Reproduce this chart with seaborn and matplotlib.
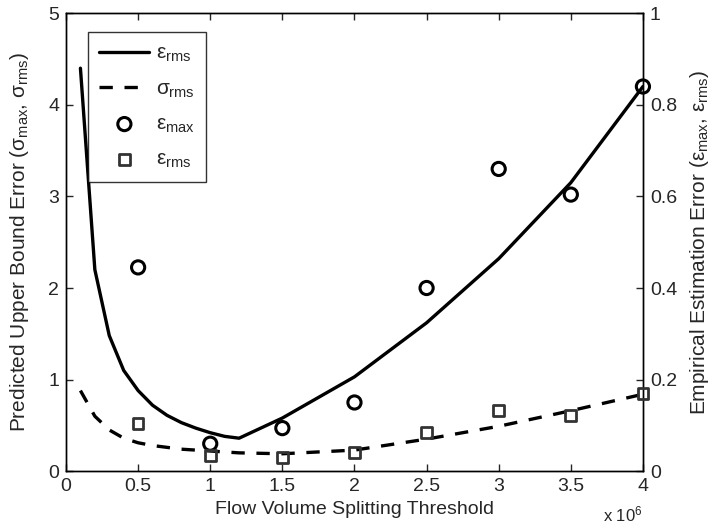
import matplotlib
matplotlib.use("Agg")
import matplotlib.pyplot as plt
import seaborn as sns
import pandas as pd

# Data (x in units of 10^6)
curve_x = [0.1, 0.2, 0.3, 0.4, 0.5, 0.6, 0.7, 0.8, 0.9, 1.0, 1.1, 1.2,
           1.5, 2.0, 2.5, 3.0, 3.5, 4.0]
eps_rms_line = [4.4, 2.2, 1.48, 1.1, 0.88, 0.72, 0.61, 0.53, 0.47, 0.42, 0.38, 0.36,
                0.58, 1.03, 1.62, 2.32, 3.15, 4.2]
sigma_rms_line = [0.88, 0.6, 0.45, 0.36, 0.31, 0.28, 0.26, 0.24, 0.23, 0.22, 0.21, 0.2,
                  0.19, 0.23, 0.35, 0.49, 0.66, 0.84]

pt_x = [0.5, 1.0, 1.5, 2.0, 2.5, 3.0, 3.5, 4.0]
eps_max_pts = [0.445, 0.06, 0.094, 0.15, 0.40, 0.66, 0.604, 0.84]
eps_rms_pts = [0.104, 0.034, 0.03, 0.04, 0.084, 0.132, 0.122, 0.17]

xticks = [0, 0.5, 1, 1.5, 2, 2.5, 3, 3.5, 4]
xticklabels = ["0", "0.5", "1", "1.5", "2", "2.5", "3", "3.5", "4"]
yticks_left = [0, 1, 2, 3, 4, 5]
yticks_right = [0, 0.2, 0.4, 0.6, 0.8, 1]
yticklabels_right = ["0", "0.2", "0.4", "0.6", "0.8", "1"]

sns.set_style("ticks")
plt.rcParams["font.family"] = ["Liberation Sans", "DejaVu Sans"]
plt.rcParams["mathtext.fontset"] = "custom"
plt.rcParams["mathtext.rm"] = "Liberation Sans"
plt.rcParams["mathtext.it"] = "Liberation Sans"
plt.rcParams["xtick.direction"] = "in"
plt.rcParams["ytick.direction"] = "in"

lines_df = pd.DataFrame({"x": curve_x, "eps": eps_rms_line, "sig": sigma_rms_line})
pts_df = pd.DataFrame({"x": pt_x, "emax": eps_max_pts, "erms": eps_rms_pts})

fig = plt.figure(figsize=(7.12, 5.30), dpi=100)
ax = fig.add_axes([0.0927, 0.111, 0.8103, 0.864])
ax2 = ax.twinx()

sns.lineplot(data=lines_df, x="x", y="eps", ax=ax, color="black", linewidth=2.4,
             label=r"$\varepsilon_{rms}$", legend=False)
sns.lineplot(data=lines_df, x="x", y="sig", ax=ax, color="black", linewidth=2.4,
             linestyle=(0, (4, 3.5)), label=r"$\sigma_{rms}$", legend=False)
sns.scatterplot(data=pts_df, x="x", y="emax", ax=ax2, marker="o", s=90,
                facecolors="none", edgecolor="black", linewidth=2.2,
                label=r"$\varepsilon_{max}$", legend=False, zorder=5, clip_on=False)
sns.scatterplot(data=pts_df, x="x", y="erms", ax=ax2, marker="s", s=60,
                facecolors="none", edgecolor="#333333", linewidth=2.0,
                label=r"$\varepsilon_{rms}$", legend=False, zorder=5, clip_on=False)

ax.set_xlim(0, 4)
ax.set_ylim(0, 5)
ax2.set_ylim(0, 1)
ax.set_xticks(xticks)
ax.set_xticklabels(xticklabels)
ax.set_yticks(yticks_left)
ax2.set_yticks(yticks_right)
ax2.set_yticklabels(yticklabels_right)

for a in (ax, ax2):
    for s in a.spines.values():
        s.set_visible(True)
        s.set_linewidth(1.0)
        s.set_color("black")
ax.tick_params(axis="both", labelsize=14, length=5, width=1, top=True, pad=5)
ax2.tick_params(axis="y", labelsize=14, length=5, width=1, pad=5)

ax.set_xlabel("Flow Volume Splitting Threshold", fontsize=14, labelpad=4)
ax.set_ylabel(r"Predicted Upper Bound Error ($\sigma_{max}$, $\sigma_{rms}$)", fontsize=15, labelpad=12)
ax2.set_ylabel(r"Empirical Estimation Error ($\varepsilon_{max}$, $\varepsilon_{rms}$)", fontsize=15, labelpad=8)
ax.text(0.965, -0.072, r"x 10$^6$", transform=ax.transAxes, fontsize=12, ha="center", va="top")

h1, l1 = ax.get_legend_handles_labels()
h2, l2 = ax2.get_legend_handles_labels()
leg = ax.legend(h1 + h2, l1 + l2, loc="upper left", bbox_to_anchor=(0.038, 0.958),
                borderaxespad=0, fontsize=15, frameon=True, fancybox=False, edgecolor="black",
                handlelength=2.4, handletextpad=0.3, labelspacing=0.72, borderpad=0.55)
leg.get_frame().set_linewidth(1.0)
leg.set_zorder(10)

fig.savefig("out.png", dpi=100)
